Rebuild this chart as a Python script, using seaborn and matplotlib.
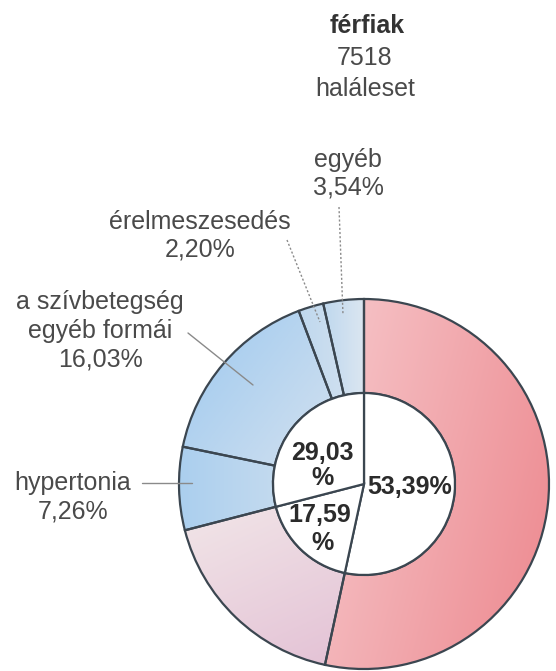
import numpy as np
import matplotlib
matplotlib.use("Agg")
import matplotlib.pyplot as plt
import seaborn as sns

# Deaths from cardiovascular causes, men
title_lines = ["férfiak", "7518", "haláleset"]
categories = ["group_a", "group_b", "hypertonia", "a szívbetegség egyéb formái",
              "érelmeszesedés", "egyéb"]
shares = [53.39, 17.59, 7.26, 16.03, 2.20, 3.54]
group_shares = [53.39, 17.59, 29.03]
group_labels = [["53,39%"], ["17,59", "%"], ["29,03", "%"]]
outer_labels = {
    "hypertonia": ["hypertonia", "7,26%"],
    "a szívbetegség egyéb formái": ["a szívbetegség", "egyéb formái", "16,03%"],
    "érelmeszesedés": ["érelmeszesedés", "2,20%"],
    "egyéb": ["egyéb", "3,54%"],
}

W, H = 556, 671
sns.set_theme(style="white")
plt.rcParams["font.family"] = ["Liberation Sans", "DejaVu Sans"]

fig = plt.figure(figsize=(W / 100, H / 100), dpi=100)
ax = fig.add_axes([0, 0, 1, 1])


def py(y):
    return H - y


cx, cy = 364, py(484)
R_out, R_in = 185, 91
edge = "#3b4650"

# gradient colour ramps for each outer slice
ramps = [
    sns.blend_palette(["#f5bfc3", "#ee9096"], as_cmap=True),
    sns.blend_palette(["#f0e2e6", "#e4c3d6"], as_cmap=True),
    sns.blend_palette(["#abcfee", "#d9e4ef"], as_cmap=True),
    sns.blend_palette(["#add0ef", "#dce5ef"], as_cmap=True),
    sns.blend_palette(["#bfd8ee", "#d6e3f0"], as_cmap=True),
    sns.blend_palette(["#bfd8ee", "#dbe6f1"], as_cmap=True),
]
# gradient direction per slice (screen space, y pointing down)
directions = [(1.0, 0.25), (0.45, 1.0), (1.0, 0.0), (0.8, 0.6), (1.0, 0.0), (1.0, 0.0)]

wedges, _ = ax.pie(shares, radius=R_out, center=(cx, cy), startangle=90,
                   counterclock=False,
                   wedgeprops=dict(width=R_out - R_in, edgecolor=edge,
                                   linewidth=1.6, facecolor="none"),
                   frame=False)

xs = np.linspace(cx - R_out, cx + R_out, 300)
ys = np.linspace(cy - R_out, cy + R_out, 300)
X, Y = np.meshgrid(xs, ys)
for w, cmap, (dx, dy) in zip(wedges, ramps, directions):
    t = (X - cx) * dx - (Y - cy) * dy
    verts = w.get_path().vertices
    proj = (verts[:, 0] - cx) * dx - (verts[:, 1] - cy) * dy
    tmin, tmax = proj.min(), proj.max()
    tn = np.clip((t - tmin) / (tmax - tmin + 1e-9), 0, 1)
    im = ax.imshow(tn, cmap=cmap, extent=(xs[0], xs[-1], ys[0], ys[-1]),
                   origin="lower", zorder=0.5, interpolation="bilinear")
    im.set_clip_path(w)
    w.set_zorder(1)

# inner disc split into the three groups
inner, _ = ax.pie(group_shares, radius=R_in, center=(cx, cy), startangle=90,
                  counterclock=False,
                  wedgeprops=dict(edgecolor=edge, linewidth=1.6, facecolor="white"),
                  frame=False)
for w in inner:
    w.set_zorder(1.2)

label_col = "#4a4a4a"
fs = 18

# title
ax.text(367, py(26), title_lines[0], ha="center", va="center", fontsize=fs,
        fontweight="bold", color="#333333")
ax.text(365, py(58), title_lines[1], ha="center", va="center", fontsize=fs, color=label_col)
ax.text(365, py(89), title_lines[2], ha="center", va="center", fontsize=fs, color=label_col)

# outer labels
label_pos = {
    "hypertonia": (73, [483, 512]),
    "a szívbetegség egyéb formái": (100, [302, 331, 359]),
    "érelmeszesedés": (200, [222, 249]),
    "egyéb": (348, [160, 188]),
}
for key, (x, ylist) in label_pos.items():
    for line, y in zip(outer_labels[key], ylist):
        ax.text(x, py(y), line, ha="center", va="center", fontsize=fs, color=label_col)

# leader lines
lc = "#8a8a8a"
ax.plot([142, 192], [py(483), py(483)], color=lc, lw=1.0, zorder=2)
ax.plot([188, 253], [py(333), py(385)], color=lc, lw=1.0, zorder=2)
ax.plot([287, 320], [py(240), py(322)], color=lc, lw=1.0, ls=(0, (1.5, 1.5)), zorder=2)
ax.plot([339, 343], [py(207), py(315)], color=lc, lw=1.0, ls=(0, (1.5, 1.5)), zorder=2)

# group percentages inside the disc
inner_col = "#2b2b2b"
ax.text(410, py(487), group_labels[0][0], ha="center", va="center", fontsize=fs,
        fontweight="bold", color=inner_col, zorder=3)
ax.text(320, py(515), group_labels[1][0], ha="center", va="center", fontsize=fs,
        fontweight="bold", color=inner_col, zorder=3)
ax.text(323, py(543), group_labels[1][1], ha="center", va="center", fontsize=fs,
        fontweight="bold", color=inner_col, zorder=3)
ax.text(322, py(453), group_labels[2][0], ha="center", va="center", fontsize=fs,
        fontweight="bold", color=inner_col, zorder=3)
ax.text(322, py(478), group_labels[2][1], ha="center", va="center", fontsize=fs,
        fontweight="bold", color=inner_col, zorder=3)

ax.set_xlim(0, W)
ax.set_ylim(0, H)
ax.set_aspect("equal")
ax.axis("off")
fig.savefig("out.png", dpi=100, facecolor="white")
